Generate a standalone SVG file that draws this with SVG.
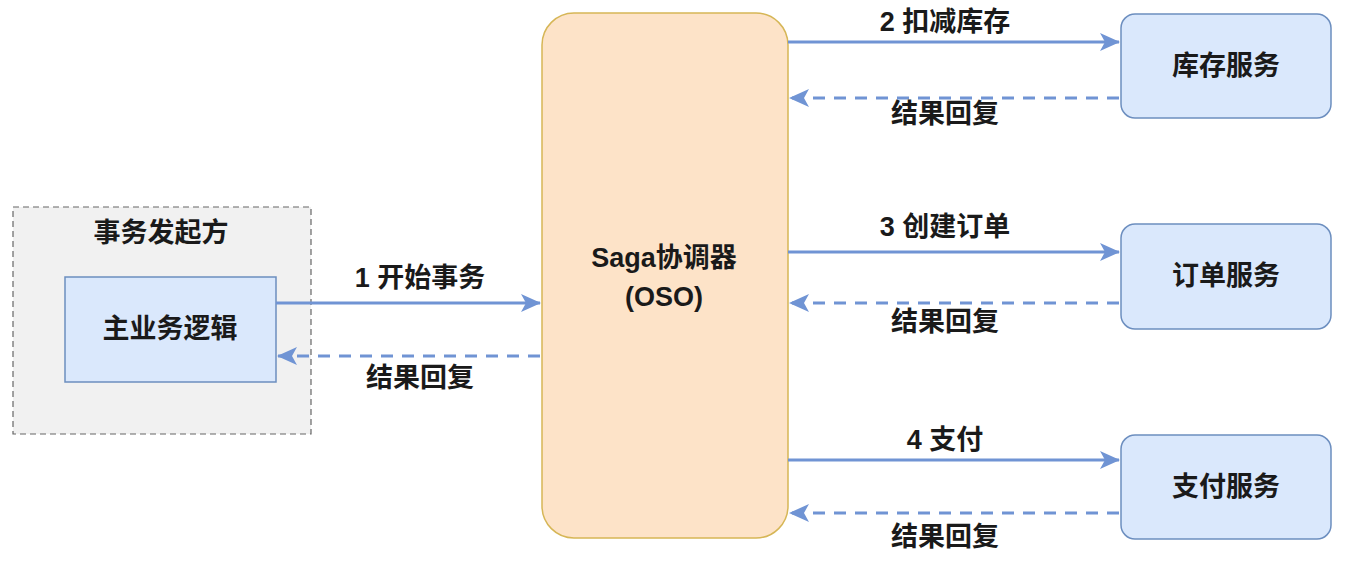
<svg xmlns="http://www.w3.org/2000/svg" width="1348" height="580" viewBox="0 0 1348 580">
<style>
text{font-family:"Liberation Sans","Noto Sans CJK SC",sans-serif;font-weight:bold;font-size:27px;fill:#1a1a1a;text-anchor:middle;dominant-baseline:central}
.svc{fill:#dae8fc;stroke:#6c8ebf;stroke-width:1.5}
.ln{stroke:#7094d4;stroke-width:2.8;fill:none}
.dash{stroke-dasharray:12 9}
</style>
<defs>
<marker id="ahl" viewBox="0 0 20 20" refX="19" refY="10" markerWidth="20" markerHeight="20" markerUnits="userSpaceOnUse" orient="auto">
<path d="M0,1 L20,10 L0,19 L5,10 Z" fill="#7094d4"/>
</marker>
</defs>
<rect width="1348" height="580" fill="#ffffff"/>
<g id="initiator">
<rect x="13" y="207" width="298" height="227" fill="#f1f1f1" stroke="#666" stroke-width="1.2" stroke-dasharray="6 4"/>
<text x="161" y="233">事务发起方</text>
</g>
<g id="main-logic">
<rect x="65" y="277" width="211" height="105" fill="#dae8fc" stroke="#6c8ebf" stroke-width="1.5"/>
<text x="170" y="329">主业务逻辑</text>
</g>
<g id="saga">
<rect x="542" y="13" width="246" height="525" rx="32" fill="#fde3c8" stroke="#d6b656" stroke-width="1.5"/>
<text x="664" y="258">Saga协调器</text>
<text x="664" y="297">(OSO)</text>
</g>
<g id="inventory">
<rect class="svc" x="1121" y="14" width="210" height="104" rx="14"/>
<text x="1226" y="66">库存服务</text>
</g>
<g id="order">
<rect class="svc" x="1121" y="224" width="210" height="105" rx="14"/>
<text x="1226" y="276">订单服务</text>
</g>
<g id="payment">
<rect class="svc" x="1121" y="435" width="210" height="104" rx="14"/>
<text x="1226" y="487">支付服务</text>
</g>
<g id="connectors">
<line class="ln" x1="276" y1="303" x2="540" y2="303" marker-end="url(#ahl)"/>
<line class="ln dash" x1="540" y1="356" x2="278" y2="356" marker-end="url(#ahl)"/>
<line class="ln" x1="788" y1="42" x2="1119" y2="42" marker-end="url(#ahl)"/>
<line class="ln dash" x1="1119" y1="98" x2="790" y2="98" marker-end="url(#ahl)"/>
<line class="ln" x1="788" y1="252" x2="1119" y2="252" marker-end="url(#ahl)"/>
<line class="ln dash" x1="1119" y1="303" x2="790" y2="303" marker-end="url(#ahl)"/>
<line class="ln" x1="788" y1="460" x2="1119" y2="460" marker-end="url(#ahl)"/>
<line class="ln dash" x1="1119" y1="513" x2="790" y2="513" marker-end="url(#ahl)"/>
<text x="420" y="278">1 开始事务</text>
<text x="420" y="378">结果回复</text>
<text x="945" y="22">2 扣减库存</text>
<text x="945" y="114">结果回复</text>
<text x="945" y="227">3 创建订单</text>
<text x="945" y="322">结果回复</text>
<text x="945" y="440">4 支付</text>
<text x="945" y="537">结果回复</text>
</g>
</svg>
